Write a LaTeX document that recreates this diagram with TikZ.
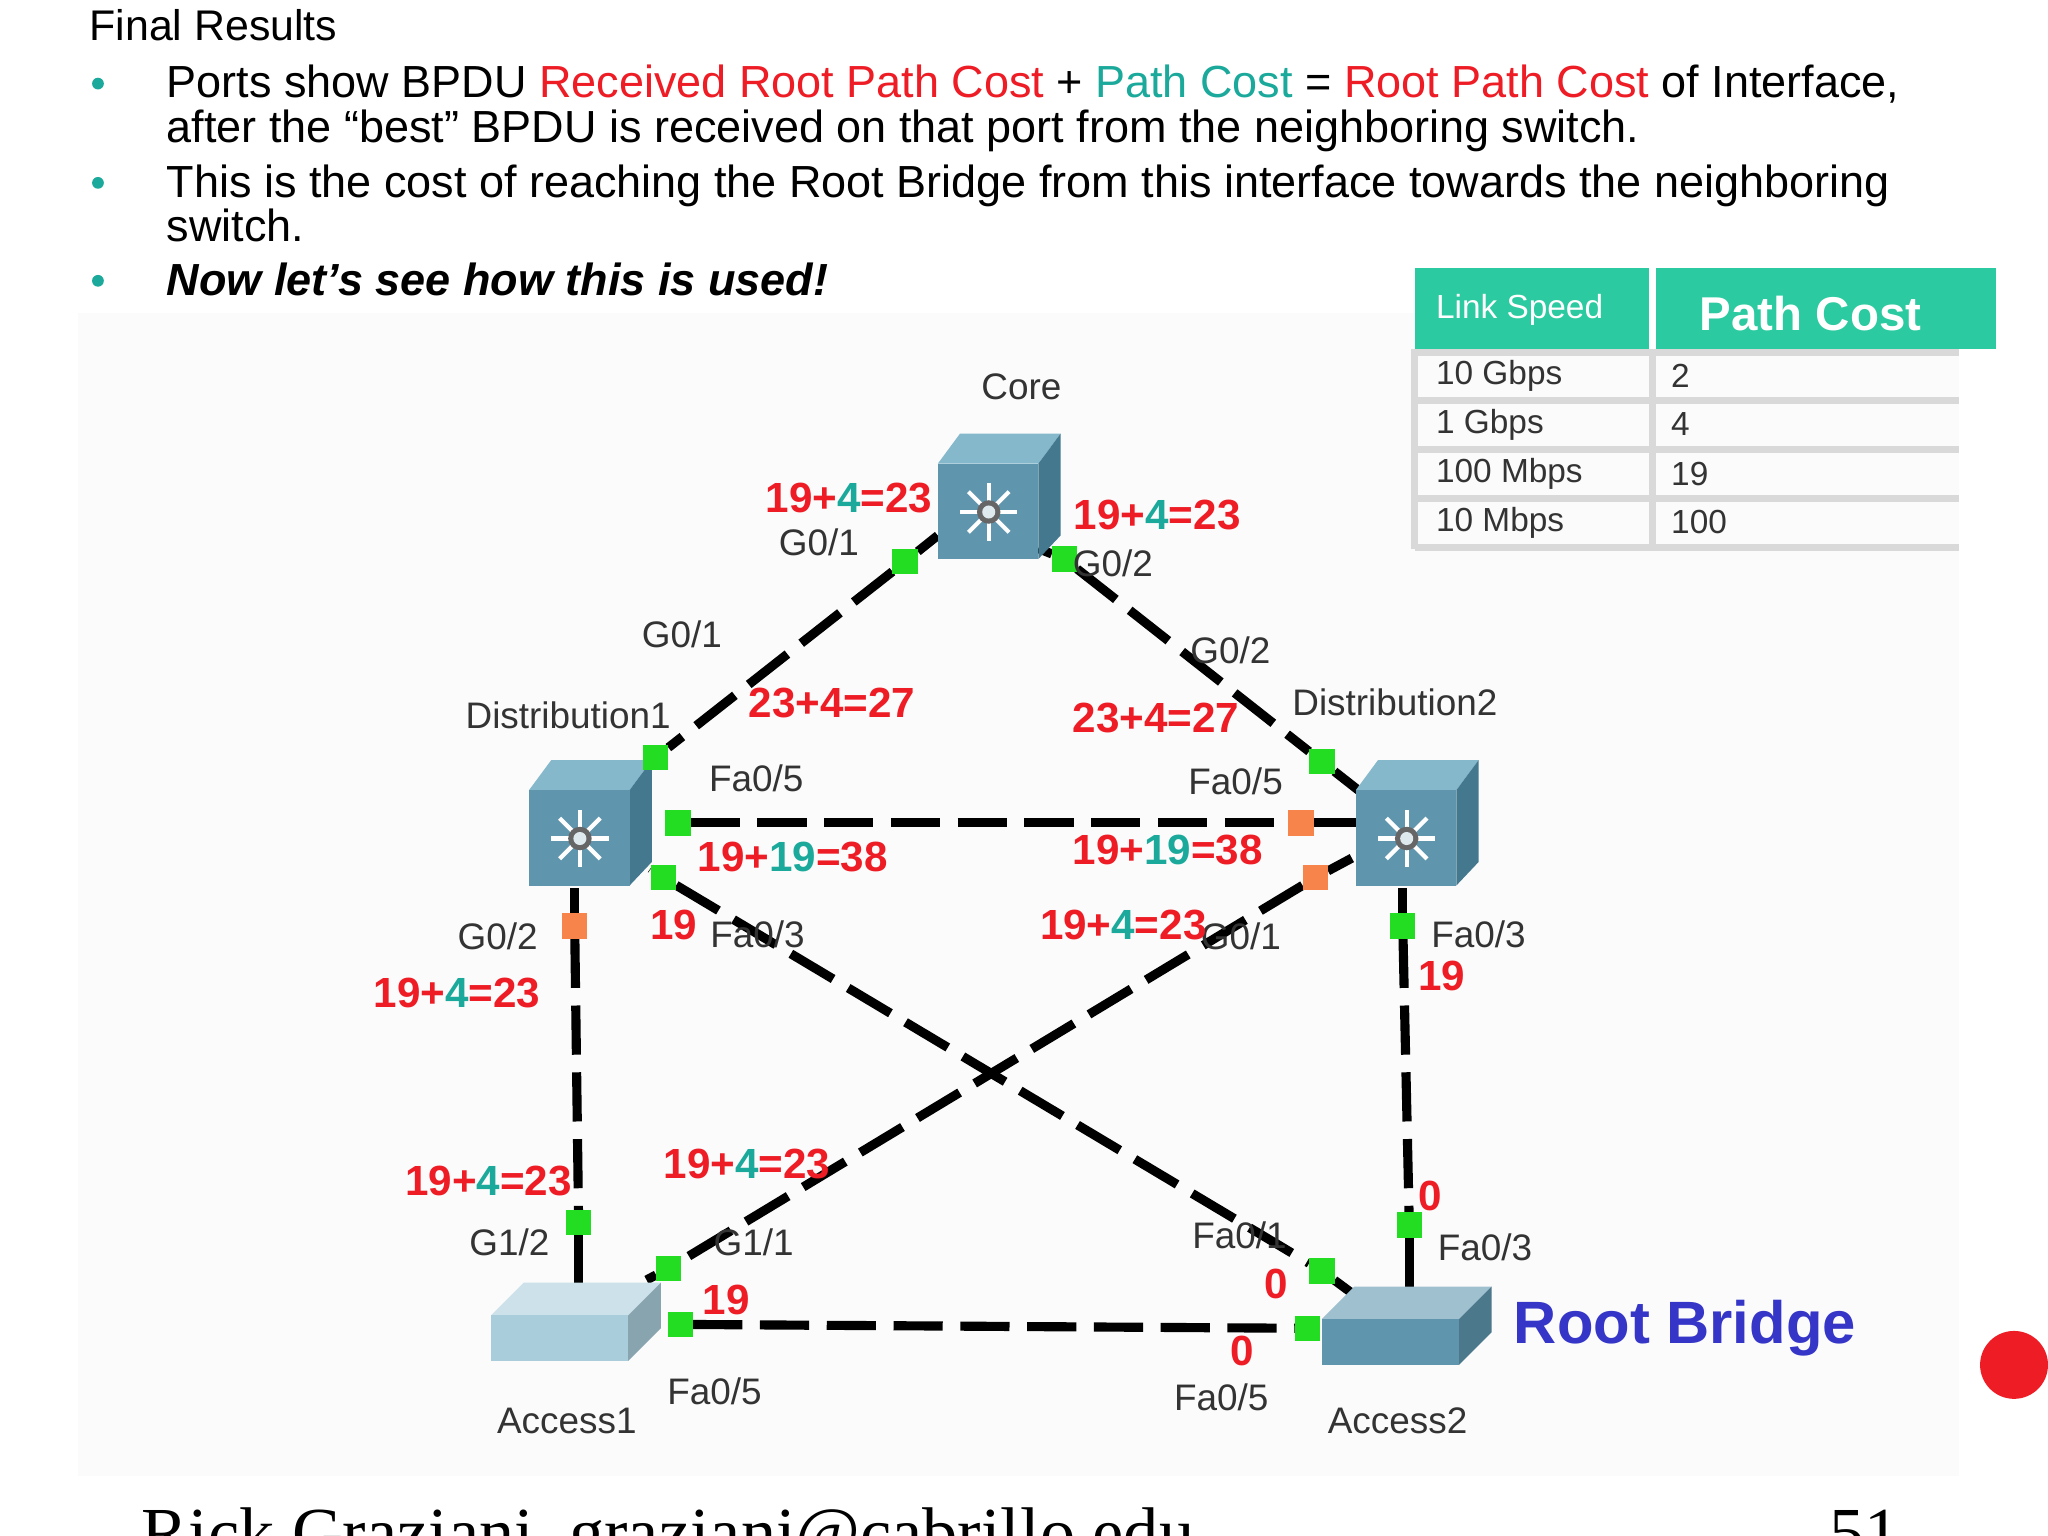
\documentclass[tikz,border=0pt]{standalone}
\usepackage{fontspec}
\setmainfont{Liberation Sans}
\newfontfamily\serifx{Liberation Serif}
\definecolor{rd}{HTML}{EE1C25}
\definecolor{tl}{HTML}{1BA99B}
\definecolor{hd}{HTML}{2CCAA0}
\definecolor{bl}{HTML}{3535C8}
\definecolor{gn}{HTML}{22DD22}
\definecolor{og}{HTML}{F7844A}
\definecolor{sf}{HTML}{5F96AE}
\definecolor{st}{HTML}{86B8CC}
\definecolor{ss}{HTML}{43788F}
\begin{document}
\begin{tikzpicture}[x=0.013061cm,y=-0.013061cm,
  port/.style={fill=gn,minimum size=0.24cm,inner sep=0pt},
  oport/.style={fill=og,minimum size=0.24cm,inner sep=0pt},
  link/.style={line width=2.6pt,dash pattern=on 14pt off 5pt},
  lab/.style={font=\fontsize{10.5}{12}\selectfont,text=black!80},
  num/.style={font=\fontsize{12}{13}\selectfont\bfseries,text=rd},
  body/.style={font=\fontsize{12.8}{15}\selectfont,anchor=base west,inner sep=0pt}]
\useasboundingbox (0,0) rectangle (1568,1176);
\fill[white] (0,0) rectangle (1568,1176);
\fill[black!1.5] (60,240) rectangle (1500,1130);
% header text
\node[body,font=\fontsize{12.2}{14}\selectfont] (t0) at (68,31) {Final Results};
\foreach \yy in {64,140,215} \fill[tl] (75,\yy) circle (4.5);
\node[body] (t1) at (127,75) {Ports show BPDU \textcolor{rd}{Received Root Path Cost} + \textcolor{tl}{Path Cost} = \textcolor{rd}{Root Path Cost} of Interface,};
\node[body] (t2) at (127,109) {after the “best” BPDU is received on that port from the neighboring switch.};
\node[body] (t3) at (127,151) {This is the cost of reaching the Root Bridge from this interface towards the neighboring};
\node[body] (t4) at (127,185) {switch.};
\node[body] (t5) at (127,226) {\bfseries\itshape Now let’s see how this is used!};
% table
\fill[hd] (1083,205) rectangle (1528,267);
\draw[white,line width=2pt] (1265,205) -- (1265,267);
\node[anchor=west,text=white,font=\fontsize{9.5}{11}\selectfont] (h1) at (1090,237) {Link Speed};
\node[anchor=west,text=white,font=\fontsize{13.5}{15}\selectfont\bfseries] (h2) at (1292,240) {Path Cost};
\foreach \yy in {270,307,344,382,419} \draw[black!15,line width=2pt] (1083,\yy) -- (1500,\yy);
\draw[black!15,line width=2pt] (1083,267) -- (1083,420) (1265,267) -- (1265,420);
\foreach \a/\b/\yy in {10 Gbps/2/288,1 Gbps/4/325,100 Mbps/19/363,10 Mbps/100/400}{
  \node[anchor=west,font=\fontsize{9.5}{11}\selectfont,text=black!80] at (1090,\yy) {\a};
  \node[anchor=west,font=\fontsize{9.5}{11}\selectfont,text=black!80] at (1270,\yy) {\b};}
% ports
\node[port] (c1) at (693,430) {}; \node[port] (c2) at (815,428) {};
\node[port] (d1a) at (502,580) {}; \node[port] (d2a) at (1012,583) {};
\node[port] (d1b) at (519,630) {}; \node[oport] (d2b) at (996,630) {};
\node[port] (d1c) at (508,672) {}; \node[oport] (d2c) at (1007,672) {};
\node[oport] (d1d) at (440,709) {}; \node[port] (d2d) at (1074,709) {};
\node[port] (a1a) at (443,936) {}; \node[port] (a1b) at (512,971) {};
\node[port] (a1c) at (521,1014) {}; \node[port] (a2a) at (1079,938) {};
\node[port] (a2b) at (1012,973) {}; \node[port] (a2c) at (1001,1017) {};
% links
\draw[link] (c1) -- (d1a); \draw[link] (c2) -- (d2a);
\draw[link] (d1b) -- (d2b); \draw[link] (d1c) -- (a2b);
\draw[link] (d2c) -- (a1b); \draw[link] (d1d) -- (a1a);
\draw[link] (d2d) -- (a2a); \draw[link] (a1c) -- (a2c);
\draw[link] (d1a) -- (495,588); \draw[link] (d2a) -- (1040,605);
\draw[link] (d2b) -- (1040,630); \draw[link] (d1c) -- (498,665);
\draw[link] (d2c) -- (1035,657); \draw[link] (d1d) -- (440,680);
\draw[link] (a1a) -- (443,985); \draw[link] (a2a) -- (1079,985);
\draw[link] (a1b) -- (495,980); \draw[link] (a2b) -- (1035,990);
\draw[link] (c1) -- (718,410); \draw[link] (c2) -- (795,420);
\draw[link] (d2d) -- (1074,680);
% switch cubes
\newcommand\mycube[2]{%
  \fill[st] (#1-47,#2-25) -- (#1-30,#2-48) -- (#1+47,#2-48) -- (#1+30,#2-25) -- cycle;
  \fill[ss] (#1+30,#2-25) -- (#1+47,#2-48) -- (#1+47,#2+30) -- (#1+30,#2+48) -- cycle;
  \fill[sf] (#1-47,#2-25) rectangle (#1+30,#2+48);
  \foreach \ang in {0,45,...,315}
    \draw[white,line width=1.2pt] (#1-8,#2+12) ++(\ang:8) -- ++(\ang:14);
  \fill[black!60] (#1-8,#2+12) circle (9);
  \fill[white!80!sf] (#1-8,#2+12) circle (5);}
\mycube{765}{380}
\mycube{452}{630}
\mycube{1085}{630}
% access switches
\newcommand\myflat[3]{%
  \fill[#3!60!white] (#1-65,#2-5) -- (#1-40,#2-30) -- (#1+65,#2-30) -- (#1+40,#2-5) -- cycle;
  \fill[#3!80!black] (#1+40,#2-5) -- (#1+65,#2-30) -- (#1+65,#2+5) -- (#1+40,#2+30) -- cycle;
  \fill[#3] (#1-65,#2-5) rectangle (#1+40,#2+30);}
\myflat{441}{1012}{st!70!white}
\myflat{1077}{1015}{sf}
% redraw ports on top
\foreach \p in {c1,c2,d1a,d2a,d1b,d1c,d2d,a1a,a1b,a1c,a2a,a2b,a2c} \fill[gn] (\p.south west) rectangle (\p.north east);
\foreach \p in {d2b,d2c,d1d} \fill[og] (\p.south west) rectangle (\p.north east);
% labels
\def\sf#1#2#3{\textcolor{rd}{#1+}\textcolor{tl}{#2}\textcolor{rd}{=#3}}
\foreach \x/\y/\t in {782/296/{Core},627/415/{G0/1},852/431/{G0/2},522/486/{G0/1},942/498/{G0/2},435/548/{Distribution1},1068/538/{Distribution2},579/596/{Fa0/5},946/598/{Fa0/5},580/715/{Fa0/3},950/717/{G0/1},381/717/{G0/2},1132/715/{Fa0/3},390/951/{G1/2},577/951/{G1/1},949/946/{Fa0/1},1137/955/{Fa0/3},547/1065/{Fa0/5},935/1070/{Fa0/5},434/1088/{Access1},1070/1088/{Access2}}
  \node[lab] at (\x,\y) {\t};
\node[num] at (650,381) {\sf{19}{4}{23}};
\node[num] at (886,394) {\sf{19}{4}{23}};
\node[num] at (637,538) {23+4=27};
\node[num] at (885,550) {23+4=27};
\node[num] at (607,656) {\sf{19}{19}{38}};
\node[num] at (894,651) {\sf{19}{19}{38}};
\node[num] at (860,708) {\sf{19}{4}{23}};
\node[num] at (350,760) {\sf{19}{4}{23}};
\node[num] at (374,904) {\sf{19}{4}{23}};
\node[num] at (572,891) {\sf{19}{4}{23}};
\foreach \x/\y/\t in {516/708/19,1104/747/19,556/995/19,1095/916/0,977/983/0,951/1034/0}
  \node[num] at (\x,\y) {\t};
\node[text=bl,font=\fontsize{17}{20}\selectfont\bfseries] (rb) at (1290,1017) {Root Bridge};
\fill[rd] (1542,1045) circle (26);
\node[anchor=base west,inner sep=0pt,font=\serifx\fontsize{20}{20}\selectfont] (ft) at (108,1192) {Rick Graziani\ \ graziani@cabrillo.edu};
\node[anchor=base west,inner sep=0pt,font=\serifx\fontsize{20}{20}\selectfont] (pg) at (1400,1192) {51};
\end{tikzpicture}
\end{document}
